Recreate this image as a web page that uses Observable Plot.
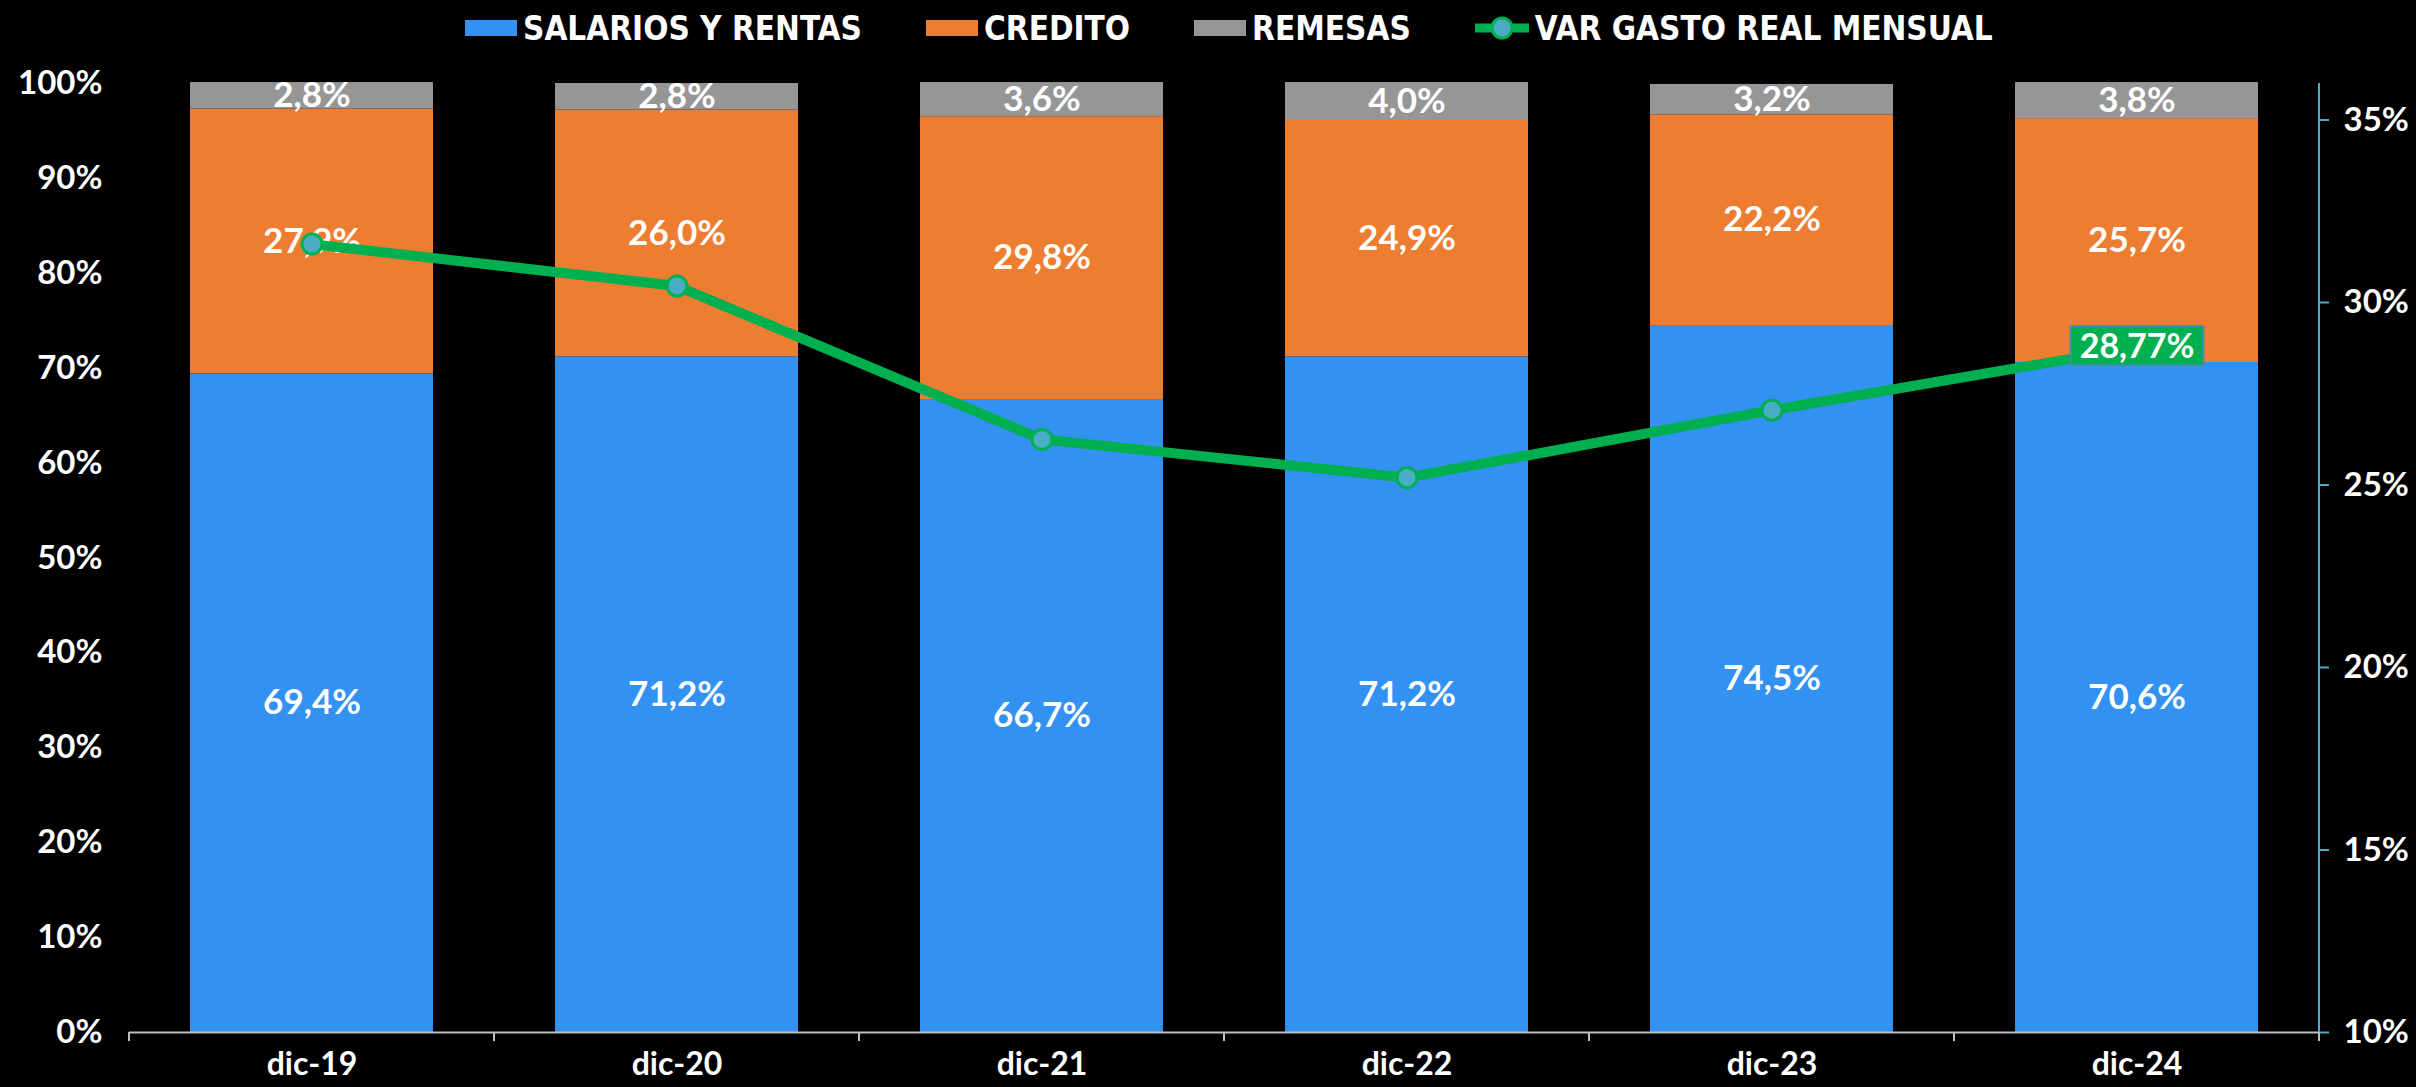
<!DOCTYPE html>
<html>
<head>
<meta charset="utf-8">
<script src="https://cdn.jsdelivr.net/npm/d3@7"></script>
<script src="https://cdn.jsdelivr.net/npm/@observablehq/plot@0.6"></script>
<style>
  html, body { margin: 0; padding: 0; background: #000; }
  body { width: 2416px; height: 1087px; overflow: hidden; font-family: Lato, "Open Sans", sans-serif; }
  #legend { position: relative; height: 56px; color: #fff; font-family: "DejaVu Sans Condensed", "DejaVu Sans", Lato, sans-serif; font-stretch: condensed; font-size: 33px; font-weight: 700; }
  #legend .row { position: absolute; left: 465px; top: 0; height: 56px; display: flex; align-items: center; gap: 64px; white-space: nowrap; }
  .item { display: flex; align-items: center; gap: 6px; }
  .sw { width: 52px; height: 16px; display: inline-block; }
  #chart svg { display: block; }
</style>
</head>
<body>
<div id="legend"><div class="row"></div></div>
<div id="chart"></div>
<script>
// ---- data ----
const periods = ["dic-19", "dic-20", "dic-21", "dic-22", "dic-23", "dic-24"];
const seriesNames = ["SALARIOS Y RENTAS", "CREDITO", "REMESAS"];
const seriesColors = ["#3391F1", "#ED7D31", "#969696"];
const salarios = [69.4, 71.2, 66.7, 71.2, 74.5, 70.6];
const credito  = [27.9, 26.0, 29.8, 24.9, 22.2, 25.7];
const remesas  = [2.8, 2.8, 3.6, 4.0, 3.2, 3.8];
const lineName = "VAR GASTO REAL MENSUAL";
const varGasto = [31.6, 30.45, 26.25, 25.2, 27.05, 28.77];
const leftTicks = [0, 10, 20, 30, 40, 50, 60, 70, 80, 90, 100];
const rightTicks = [10, 15, 20, 25, 30, 35];
const rightDomain = [10, 36];

const green = "#00B050";
const teal = "#4BACC6";

// ---- derived tables ----
const seriesValues = [salarios, credito, remesas];
const rows = [];
periods.forEach((p, i) => {
  seriesNames.forEach((s, k) => rows.push({period: p, series: s, value: seriesValues[k][i]}));
});
const toLeft = v => (v - rightDomain[0]) / (rightDomain[1] - rightDomain[0]) * 100;
const fromLeft = v => rightDomain[0] + v / 100 * (rightDomain[1] - rightDomain[0]);
const lineRows = periods.map((p, i) => ({period: p, v: varGasto[i]}));
const fmt1 = v => d3.format(".1f")(v).replace(".", ",") + "%";
const fmt2 = v => d3.format(".2f")(v).replace(".", ",") + "%";

// ---- legend ----
const legend = d3.select("#legend .row");
seriesNames.forEach((s, k) => {
  const it = legend.append("div").attr("class", "item");
  it.append("span").attr("class", "sw").style("background", seriesColors[k]);
  it.append("span").text(s);
});
{
  const it = legend.append("div").attr("class", "item");
  const s = it.append("svg").attr("width", 54).attr("height", 30);
  s.append("line").attr("x1", 0).attr("x2", 54).attr("y1", 15).attr("y2", 15).attr("stroke", green).attr("stroke-width", 9);
  s.append("circle").attr("cx", 27).attr("cy", 15).attr("r", 10).attr("fill", teal).attr("stroke", green).attr("stroke-width", 3);
  it.append("span").text(lineName);
}

// ---- chart ----
const chart = Plot.plot({
  width: 2416,
  height: 1031,
  marginTop: 27,
  marginBottom: 55,
  marginLeft: 129,
  marginRight: 97,
  style: {background: "#000", color: "#fff", fontFamily: "Lato, 'Open Sans', sans-serif"},
  x: {domain: periods, paddingInner: 0.333, paddingOuter: 0.1665, label: null},
  y: {domain: [0, 100], label: null},
  color: {domain: seriesNames, range: seriesColors},
  marks: [
    Plot.barY(rows, {x: "period", y: "value", fill: "series", z: "series"}),
    Plot.text(rows, Plot.stackY({x: "period", y: "value", z: "series", text: d => fmt1(d.value), fill: "#fff", fontSize: 35, fontWeight: 700})),
    Plot.ruleY([0], {stroke: "#bfbfbf", strokeWidth: 2}),
    Plot.line(lineRows, {x: "period", y: d => toLeft(d.v), stroke: green, strokeWidth: 10, curve: "linear"}),
    Plot.dot(lineRows, {x: "period", y: d => toLeft(d.v), r: 10, fill: teal, stroke: green, strokeWidth: 3}),
    Plot.text(lineRows.slice(-1), {x: "period", y: d => toLeft(d.v), text: d => fmt2(d.v), fill: "#fff", fontSize: 34, fontWeight: 700, className: "lastlabel"}),
    Plot.axisY(leftTicks, {anchor: "left", label: null, tickSize: 0, tickPadding: 27, tickFormat: d => d + "%", fontSize: 33, fontWeight: 700, fill: "#fff"}),
    Plot.axisY(rightTicks.map(toLeft), {anchor: "right", label: null, tickSize: 9, tickPadding: 15, tickFormat: d => Math.round(fromLeft(d)) + "%", fontSize: 33, fontWeight: 700, stroke: teal, strokeWidth: 2, fill: "#fff"}),
    Plot.axisX({label: null, tickSize: 0, tickPadding: 20, fontSize: 32, fontWeight: 700, fill: "#fff"})
  ]
});
document.getElementById("chart").append(chart);

// ---- axis decorations derived from the scales ----
const svg = d3.select(chart);
const xs = chart.scale("x");
const ys = chart.scale("y");
const n = periods.length;
const step = xs.step ?? ((xs.range[1] - xs.range[0]) / n);
const xStart = xs.range[0];
const yBottom = ys.range[0], yTop = ys.range[1];
const deco = svg.append("g");
for (let i = 0; i <= n; i++) {
  const x = xStart + i * step;
  deco.append("line").attr("x1", x).attr("x2", x).attr("y1", yBottom).attr("y2", yBottom + 9)
    .attr("stroke", "#bfbfbf").attr("stroke-width", 2);
}
deco.append("line").attr("x1", xs.range[1]).attr("x2", xs.range[1]).attr("y1", yTop).attr("y2", yBottom)
  .attr("stroke", teal).attr("stroke-width", 2);

// ---- label box for the last line value ----
const lblNode = svg.select(".lastlabel text").node();
if (lblNode) {
  const bb = lblNode.getBBox();
  const r = d3.select(lblNode.parentNode).insert("rect", "text")
    .attr("x", bb.x - 9).attr("y", bb.y + 2).attr("width", bb.width + 18).attr("height", bb.height - 2)
    .attr("fill", green).attr("stroke", "#3f8fb0").attr("stroke-width", 2);
  const tf = lblNode.getAttribute("transform");
  if (tf) r.attr("transform", tf);
}
</script>
</body>
</html>
